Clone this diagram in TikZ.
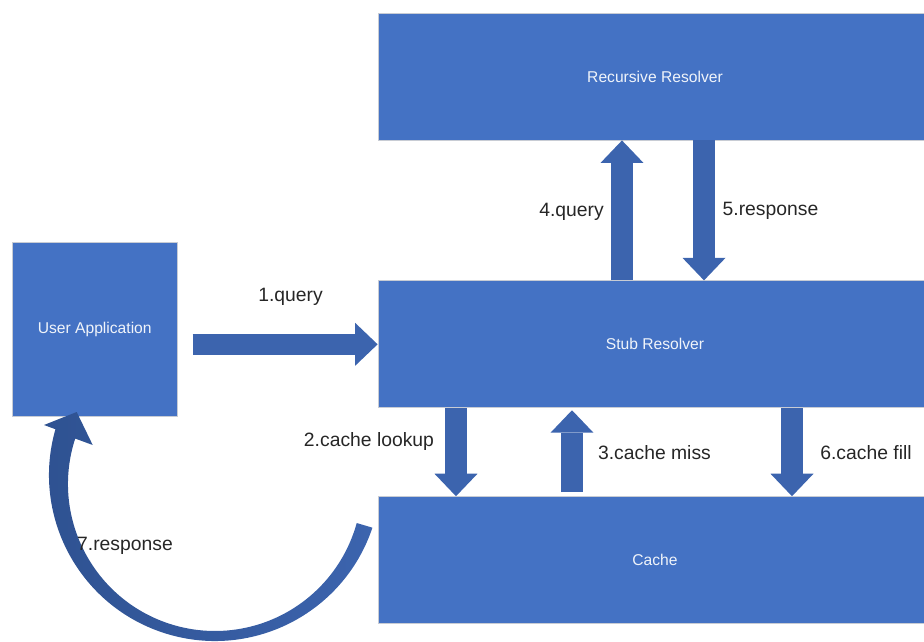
\documentclass[tikz,border=0pt]{standalone}
\usepackage{fontspec}
\setmainfont{Liberation Sans}
\usepackage{xcolor}
\usetikzlibrary{positioning,arrows.meta}

\definecolor{boxblue}{HTML}{4472C4}
\definecolor{arrowblue}{HTML}{3C64AE}
\definecolor{darkblue}{HTML}{2E5190}
\definecolor{edgegray}{HTML}{C8CCD4}

\begin{document}
\begin{tikzpicture}[
    x=0.02cm, y=-0.02cm,
    box/.style={rectangle, draw=edgegray, line width=0.5pt, fill=boxblue,
                minimum width=11.08cm, minimum height=2.54cm,
                text=white!92!boxblue, font=\fontsize{8.9}{10.5}\selectfont},
    lbl/.style={font=\fontsize{11}{13}\selectfont, text=black!85},
    blk/.style={draw=arrowblue, line width=0.43cm,
                -{Triangle[length=0.45cm, width=0.86cm, line width=0pt]}}
]
\useasboundingbox (0,0) rectangle (924,642);

\node[box]                        (rr)    at (655,76.5) {Recursive Resolver};
\node[box, below=2.8cm of rr]     (stub)  {Stub Resolver};
\node[box, below=1.76cm of stub]  (cache) {Cache};
\node[box, minimum width=3.3cm, minimum height=3.48cm,
      left=4cm of stub, yshift=0.29cm] (app) {User Application};

% block arrows
\draw[blk, shorten <=0.3cm] (app.east |- stub.west) -- (stub.west);
\draw[blk] (stub.north -| 622,0) -- (rr.south -| 622,0);
\draw[blk] (rr.south -| 704,0)   -- (stub.north -| 704,0);
\draw[blk] (stub.south -| 456,0) -- (cache.north -| 456,0);
\draw[blk, shorten <=0.08cm, shorten >=0.04cm] (cache.north -| 572,0) -- (stub.south -| 572,0);
\draw[blk] (stub.south -| 792,0) -- (cache.north -| 792,0);

% curved arrow back to the application
\shade[left color=darkblue, right color=arrowblue]
  ([shift={(215,475)}]18.5:166) arc[start angle=18.5, end angle=196, radius=166]
  -- (44,425) -- (76.7,412) -- (92.7,445)
  -- ([shift={(215,484)}]198:147) arc[start angle=198, end angle=15.4, radius=147]
  -- cycle;

\node[lbl] (q1) at (290.5,296.5) {1.query};
\node[lbl] (q2) at (369,442)     {2.cache lookup};
\node[lbl] (q3) at (654.5,452.5) {3.cache miss};
\node[lbl] (q4) at (571.5,211.5) {4.query};
\node[lbl] (q5) at (770.5,211)   {5.response};
\node[lbl] (q6) at (866,452.5)   {6.cache fill};
\node[lbl] (q7) at (125,545.5)   {7.response};
\end{tikzpicture}
\end{document}
